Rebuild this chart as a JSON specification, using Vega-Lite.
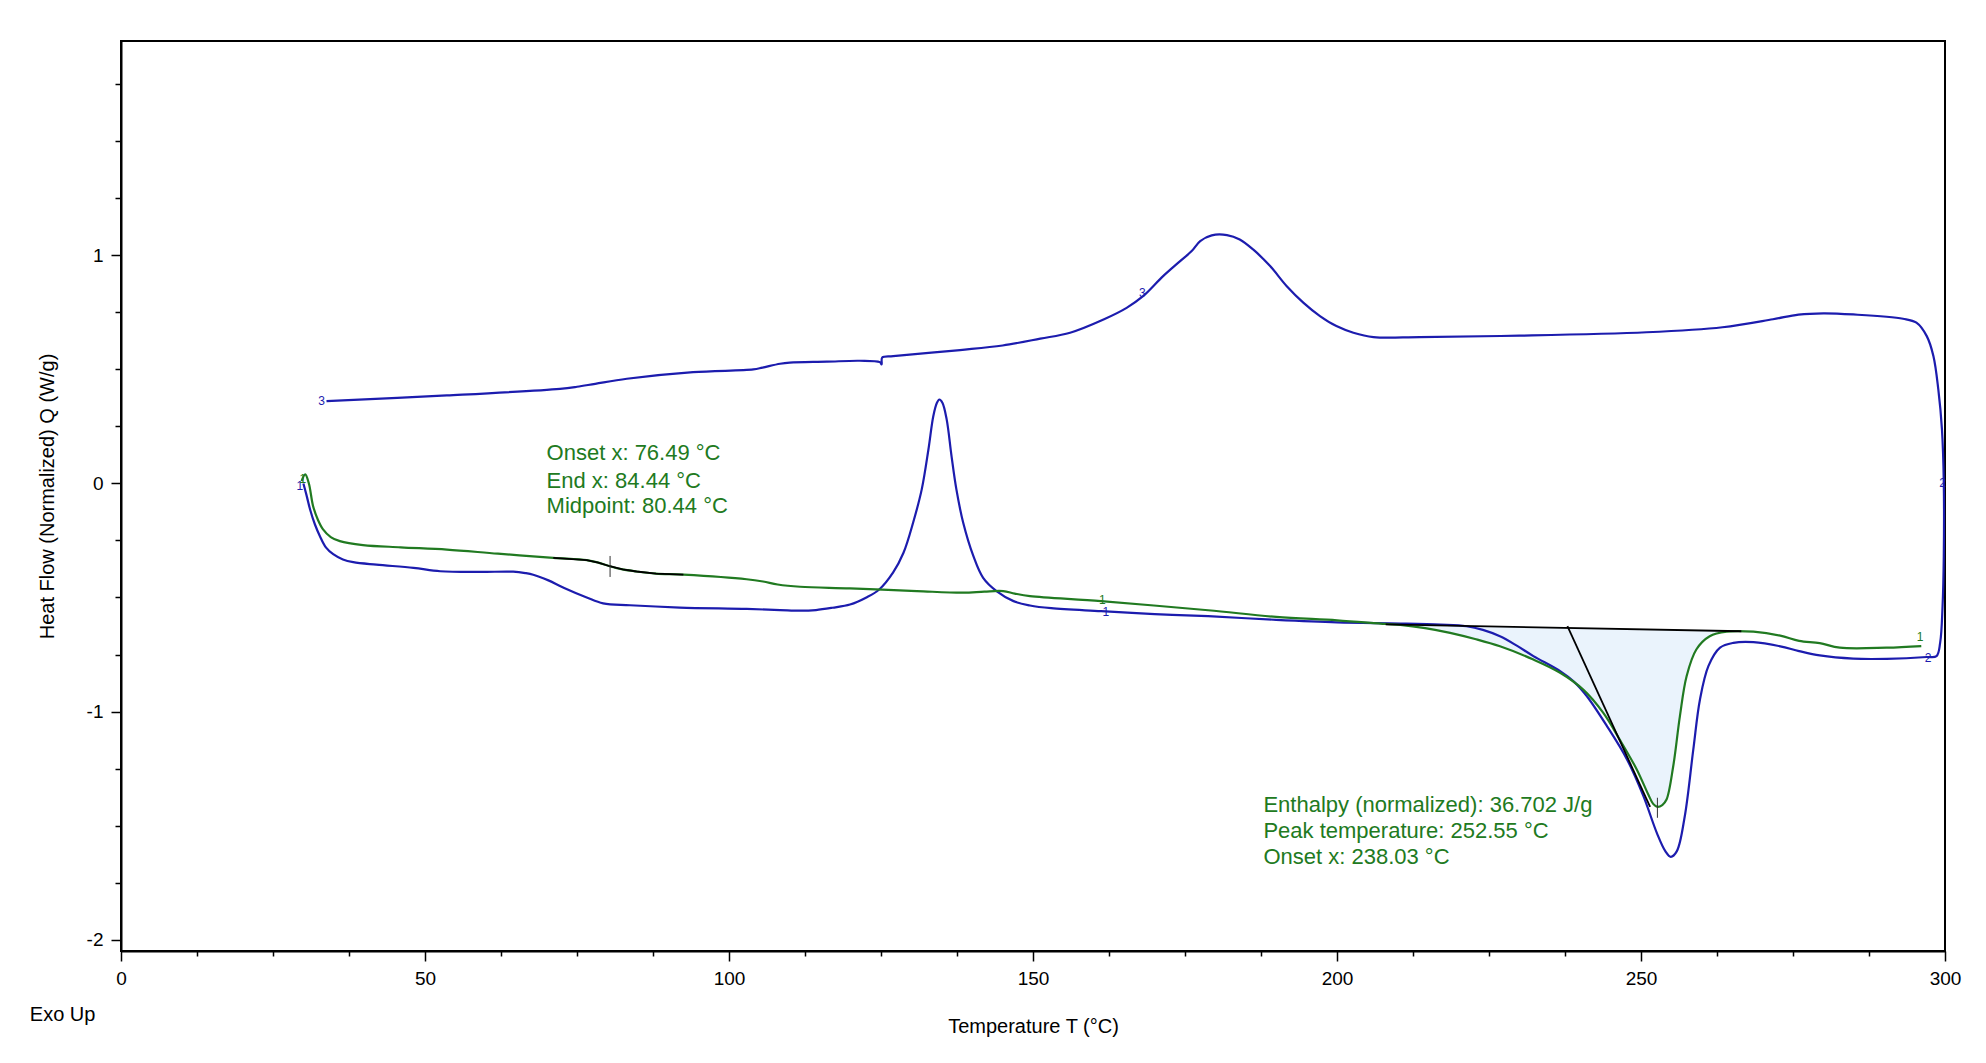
{
  "$schema": "https://vega.github.io/schema/vega-lite/v6.json",
  "description": "DSC heat flow vs temperature",
  "width": 1824,
  "height": 910,
  "autosize": {"type": "none"},
  "padding": {"left": 121, "top": 41, "right": 41, "bottom": 112},
  "background": "white",
  "config": {
    "view": {"stroke": "#000000", "strokeWidth": 2},
    "axis": {
      "grid": false,
      "domainColor": "#000000",
      "domainWidth": 2,
      "tickColor": "#000000",
      "tickWidth": 1.5,
      "labelColor": "#000000",
      "titleColor": "#000000",
      "labelFont": "Liberation Sans",
      "titleFont": "Liberation Sans",
      "labelFontSize": 19,
      "titleFontSize": 20,
      "titleFontWeight": "normal",
      "labelFlush": false
    }
  },
  "datasets": {
    "curves": [
      {"s": "blue", "i": 1, "t": 30.0, "q": 0.0},
      {"s": "blue", "i": 2, "t": 30.5, "q": -0.05},
      {"s": "blue", "i": 3, "t": 31.1, "q": -0.114},
      {"s": "blue", "i": 4, "t": 31.9, "q": -0.18},
      {"s": "blue", "i": 5, "t": 32.7, "q": -0.23},
      {"s": "blue", "i": 6, "t": 33.7, "q": -0.28},
      {"s": "blue", "i": 7, "t": 34.9, "q": -0.31},
      {"s": "blue", "i": 8, "t": 36.5, "q": -0.333},
      {"s": "blue", "i": 9, "t": 38.2, "q": -0.345},
      {"s": "blue", "i": 10, "t": 42.0, "q": -0.356},
      {"s": "blue", "i": 11, "t": 48.1, "q": -0.37},
      {"s": "blue", "i": 12, "t": 52.5, "q": -0.385},
      {"s": "blue", "i": 13, "t": 59.0, "q": -0.388},
      {"s": "blue", "i": 14, "t": 64.5, "q": -0.387},
      {"s": "blue", "i": 15, "t": 66.5, "q": -0.393},
      {"s": "blue", "i": 16, "t": 67.8, "q": -0.4},
      {"s": "blue", "i": 17, "t": 70.3, "q": -0.425},
      {"s": "blue", "i": 18, "t": 72.8, "q": -0.457},
      {"s": "blue", "i": 19, "t": 76.6, "q": -0.5},
      {"s": "blue", "i": 20, "t": 79.3, "q": -0.526},
      {"s": "blue", "i": 21, "t": 83.7, "q": -0.534},
      {"s": "blue", "i": 22, "t": 91.9, "q": -0.544},
      {"s": "blue", "i": 23, "t": 102.9, "q": -0.55},
      {"s": "blue", "i": 24, "t": 108.4, "q": -0.555},
      {"s": "blue", "i": 25, "t": 111.7, "q": -0.558},
      {"s": "blue", "i": 26, "t": 114.3, "q": -0.555},
      {"s": "blue", "i": 27, "t": 117.0, "q": -0.545},
      {"s": "blue", "i": 28, "t": 119.9, "q": -0.531},
      {"s": "blue", "i": 29, "t": 122.6, "q": -0.5},
      {"s": "blue", "i": 30, "t": 124.7, "q": -0.465},
      {"s": "blue", "i": 31, "t": 127.0, "q": -0.39},
      {"s": "blue", "i": 32, "t": 128.7, "q": -0.304},
      {"s": "blue", "i": 33, "t": 130.3, "q": -0.17},
      {"s": "blue", "i": 34, "t": 131.7, "q": -0.026},
      {"s": "blue", "i": 35, "t": 132.8, "q": 0.149},
      {"s": "blue", "i": 36, "t": 133.6, "q": 0.295},
      {"s": "blue", "i": 37, "t": 134.2, "q": 0.354},
      {"s": "blue", "i": 38, "t": 134.6, "q": 0.368},
      {"s": "blue", "i": 39, "t": 135.1, "q": 0.354},
      {"s": "blue", "i": 40, "t": 135.8, "q": 0.281},
      {"s": "blue", "i": 41, "t": 136.6, "q": 0.12},
      {"s": "blue", "i": 42, "t": 137.4, "q": -0.026},
      {"s": "blue", "i": 43, "t": 138.5, "q": -0.17},
      {"s": "blue", "i": 44, "t": 140.2, "q": -0.319},
      {"s": "blue", "i": 45, "t": 141.8, "q": -0.414},
      {"s": "blue", "i": 46, "t": 144.0, "q": -0.472},
      {"s": "blue", "i": 47, "t": 146.8, "q": -0.516},
      {"s": "blue", "i": 48, "t": 149.5, "q": -0.535},
      {"s": "blue", "i": 49, "t": 153.0, "q": -0.547},
      {"s": "blue", "i": 50, "t": 161.2, "q": -0.56},
      {"s": "blue", "i": 51, "t": 170.0, "q": -0.573},
      {"s": "blue", "i": 52, "t": 178.8, "q": -0.582},
      {"s": "blue", "i": 53, "t": 190.0, "q": -0.598},
      {"s": "blue", "i": 54, "t": 200.0, "q": -0.609},
      {"s": "blue", "i": 55, "t": 210.4, "q": -0.614},
      {"s": "blue", "i": 56, "t": 217.0, "q": -0.619},
      {"s": "blue", "i": 57, "t": 221.3, "q": -0.626},
      {"s": "blue", "i": 58, "t": 224.0, "q": -0.642},
      {"s": "blue", "i": 59, "t": 226.8, "q": -0.67},
      {"s": "blue", "i": 60, "t": 229.5, "q": -0.71},
      {"s": "blue", "i": 61, "t": 232.3, "q": -0.757},
      {"s": "blue", "i": 62, "t": 236.7, "q": -0.823},
      {"s": "blue", "i": 63, "t": 239.0, "q": -0.87},
      {"s": "blue", "i": 64, "t": 241.1, "q": -0.933},
      {"s": "blue", "i": 65, "t": 244.4, "q": -1.064},
      {"s": "blue", "i": 66, "t": 247.7, "q": -1.21},
      {"s": "blue", "i": 67, "t": 250.4, "q": -1.371},
      {"s": "blue", "i": 68, "t": 252.6, "q": -1.532},
      {"s": "blue", "i": 69, "t": 254.0, "q": -1.612},
      {"s": "blue", "i": 70, "t": 254.9, "q": -1.637},
      {"s": "blue", "i": 71, "t": 255.9, "q": -1.612},
      {"s": "blue", "i": 72, "t": 257.2, "q": -1.459},
      {"s": "blue", "i": 73, "t": 258.6, "q": -1.167},
      {"s": "blue", "i": 74, "t": 259.7, "q": -0.947},
      {"s": "blue", "i": 75, "t": 261.1, "q": -0.8},
      {"s": "blue", "i": 76, "t": 263.0, "q": -0.72},
      {"s": "blue", "i": 77, "t": 265.2, "q": -0.699},
      {"s": "blue", "i": 78, "t": 268.5, "q": -0.696},
      {"s": "blue", "i": 79, "t": 272.9, "q": -0.714},
      {"s": "blue", "i": 80, "t": 276.0, "q": -0.735},
      {"s": "blue", "i": 81, "t": 279.4, "q": -0.754},
      {"s": "blue", "i": 82, "t": 284.9, "q": -0.768},
      {"s": "blue", "i": 83, "t": 290.4, "q": -0.769},
      {"s": "blue", "i": 84, "t": 297.0, "q": -0.761},
      {"s": "blue", "i": 85, "t": 298.6, "q": -0.757},
      {"s": "blue", "i": 86, "t": 299.2, "q": -0.699},
      {"s": "blue", "i": 87, "t": 299.6, "q": -0.538},
      {"s": "blue", "i": 88, "t": 299.8, "q": -0.319},
      {"s": "blue", "i": 89, "t": 299.8, "q": 0.003},
      {"s": "blue", "i": 90, "t": 299.5, "q": 0.237},
      {"s": "blue", "i": 91, "t": 298.9, "q": 0.412},
      {"s": "blue", "i": 92, "t": 298.1, "q": 0.558},
      {"s": "blue", "i": 93, "t": 297.0, "q": 0.646},
      {"s": "blue", "i": 94, "t": 295.3, "q": 0.705},
      {"s": "blue", "i": 95, "t": 293.1, "q": 0.722},
      {"s": "blue", "i": 96, "t": 284.9, "q": 0.741},
      {"s": "blue", "i": 97, "t": 280.0, "q": 0.746},
      {"s": "blue", "i": 98, "t": 275.9, "q": 0.74},
      {"s": "blue", "i": 99, "t": 271.7, "q": 0.72},
      {"s": "blue", "i": 100, "t": 263.4, "q": 0.685},
      {"s": "blue", "i": 101, "t": 250.9, "q": 0.663},
      {"s": "blue", "i": 102, "t": 230.0, "q": 0.648},
      {"s": "blue", "i": 103, "t": 213.6, "q": 0.642},
      {"s": "blue", "i": 104, "t": 206.0, "q": 0.642},
      {"s": "blue", "i": 105, "t": 202.7, "q": 0.661},
      {"s": "blue", "i": 106, "t": 199.9, "q": 0.69},
      {"s": "blue", "i": 107, "t": 197.2, "q": 0.734},
      {"s": "blue", "i": 108, "t": 194.5, "q": 0.792},
      {"s": "blue", "i": 109, "t": 191.7, "q": 0.866},
      {"s": "blue", "i": 110, "t": 189.0, "q": 0.953},
      {"s": "blue", "i": 111, "t": 186.2, "q": 1.026},
      {"s": "blue", "i": 112, "t": 184.0, "q": 1.07},
      {"s": "blue", "i": 113, "t": 181.9, "q": 1.089},
      {"s": "blue", "i": 114, "t": 179.4, "q": 1.088},
      {"s": "blue", "i": 115, "t": 177.5, "q": 1.063},
      {"s": "blue", "i": 116, "t": 176.1, "q": 1.019},
      {"s": "blue", "i": 117, "t": 174.2, "q": 0.975},
      {"s": "blue", "i": 118, "t": 171.4, "q": 0.909},
      {"s": "blue", "i": 119, "t": 168.1, "q": 0.821},
      {"s": "blue", "i": 120, "t": 165.4, "q": 0.77},
      {"s": "blue", "i": 121, "t": 161.6, "q": 0.719},
      {"s": "blue", "i": 122, "t": 156.1, "q": 0.661},
      {"s": "blue", "i": 123, "t": 151.2, "q": 0.635},
      {"s": "blue", "i": 124, "t": 145.0, "q": 0.605},
      {"s": "blue", "i": 125, "t": 138.0, "q": 0.585},
      {"s": "blue", "i": 126, "t": 127.0, "q": 0.558},
      {"s": "blue", "i": 127, "t": 125.2, "q": 0.552},
      {"s": "blue", "i": 128, "t": 125.1, "q": 0.522},
      {"s": "blue", "i": 129, "t": 124.8, "q": 0.532},
      {"s": "blue", "i": 130, "t": 121.5, "q": 0.538},
      {"s": "blue", "i": 131, "t": 116.1, "q": 0.534},
      {"s": "blue", "i": 132, "t": 110.0, "q": 0.53},
      {"s": "blue", "i": 133, "t": 108.4, "q": 0.525},
      {"s": "blue", "i": 134, "t": 105.5, "q": 0.508},
      {"s": "blue", "i": 135, "t": 104.0, "q": 0.5},
      {"s": "blue", "i": 136, "t": 94.1, "q": 0.488},
      {"s": "blue", "i": 137, "t": 83.2, "q": 0.459},
      {"s": "blue", "i": 138, "t": 78.0, "q": 0.437},
      {"s": "blue", "i": 139, "t": 75.0, "q": 0.424},
      {"s": "blue", "i": 140, "t": 72.2, "q": 0.415},
      {"s": "blue", "i": 141, "t": 53.6, "q": 0.386},
      {"s": "blue", "i": 142, "t": 33.8, "q": 0.361},
      {"s": "green", "i": 201, "t": 29.7, "q": 0.01},
      {"s": "green", "i": 202, "t": 30.3, "q": 0.04},
      {"s": "green", "i": 203, "t": 30.9, "q": 0.0},
      {"s": "green", "i": 204, "t": 31.6, "q": -0.1},
      {"s": "green", "i": 205, "t": 32.4, "q": -0.16},
      {"s": "green", "i": 206, "t": 33.2, "q": -0.2},
      {"s": "green", "i": 207, "t": 34.5, "q": -0.235},
      {"s": "green", "i": 208, "t": 36.0, "q": -0.253},
      {"s": "green", "i": 209, "t": 39.8, "q": -0.27},
      {"s": "green", "i": 210, "t": 46.0, "q": -0.28},
      {"s": "green", "i": 211, "t": 53.6, "q": -0.29},
      {"s": "green", "i": 212, "t": 62.0, "q": -0.308},
      {"s": "green", "i": 213, "t": 71.1, "q": -0.326},
      {"s": "green", "i": 214, "t": 76.6, "q": -0.336},
      {"s": "green", "i": 215, "t": 78.5, "q": -0.347},
      {"s": "green", "i": 216, "t": 80.4, "q": -0.363},
      {"s": "green", "i": 217, "t": 82.5, "q": -0.377},
      {"s": "green", "i": 218, "t": 84.8, "q": -0.386},
      {"s": "green", "i": 219, "t": 88.0, "q": -0.395},
      {"s": "green", "i": 220, "t": 92.5, "q": -0.4},
      {"s": "green", "i": 221, "t": 102.9, "q": -0.42},
      {"s": "green", "i": 222, "t": 105.6, "q": -0.43},
      {"s": "green", "i": 223, "t": 108.0, "q": -0.443},
      {"s": "green", "i": 224, "t": 111.7, "q": -0.453},
      {"s": "green", "i": 225, "t": 119.9, "q": -0.46},
      {"s": "green", "i": 226, "t": 130.9, "q": -0.472},
      {"s": "green", "i": 227, "t": 138.5, "q": -0.479},
      {"s": "green", "i": 228, "t": 142.0, "q": -0.474},
      {"s": "green", "i": 229, "t": 145.1, "q": -0.472},
      {"s": "green", "i": 230, "t": 147.0, "q": -0.483},
      {"s": "green", "i": 231, "t": 149.5, "q": -0.494},
      {"s": "green", "i": 232, "t": 161.2, "q": -0.516},
      {"s": "green", "i": 233, "t": 178.8, "q": -0.556},
      {"s": "green", "i": 234, "t": 190.0, "q": -0.585},
      {"s": "green", "i": 235, "t": 200.0, "q": -0.6},
      {"s": "green", "i": 236, "t": 208.0, "q": -0.616},
      {"s": "green", "i": 237, "t": 210.4, "q": -0.62},
      {"s": "green", "i": 238, "t": 214.5, "q": -0.634},
      {"s": "green", "i": 239, "t": 218.6, "q": -0.655},
      {"s": "green", "i": 240, "t": 222.7, "q": -0.682},
      {"s": "green", "i": 241, "t": 226.8, "q": -0.714},
      {"s": "green", "i": 242, "t": 232.3, "q": -0.772},
      {"s": "green", "i": 243, "t": 236.7, "q": -0.83},
      {"s": "green", "i": 244, "t": 240.5, "q": -0.904},
      {"s": "green", "i": 245, "t": 243.8, "q": -1.006},
      {"s": "green", "i": 246, "t": 246.5, "q": -1.123},
      {"s": "green", "i": 247, "t": 249.3, "q": -1.254},
      {"s": "green", "i": 248, "t": 251.2, "q": -1.364},
      {"s": "green", "i": 249, "t": 252.0, "q": -1.405},
      {"s": "green", "i": 250, "t": 252.7, "q": -1.418},
      {"s": "green", "i": 251, "t": 253.5, "q": -1.41},
      {"s": "green", "i": 252, "t": 254.2, "q": -1.386},
      {"s": "green", "i": 253, "t": 255.3, "q": -1.24},
      {"s": "green", "i": 254, "t": 256.4, "q": -1.02},
      {"s": "green", "i": 255, "t": 257.5, "q": -0.845},
      {"s": "green", "i": 256, "t": 259.1, "q": -0.728},
      {"s": "green", "i": 257, "t": 261.3, "q": -0.67},
      {"s": "green", "i": 258, "t": 264.1, "q": -0.65},
      {"s": "green", "i": 259, "t": 268.5, "q": -0.65},
      {"s": "green", "i": 260, "t": 272.9, "q": -0.667},
      {"s": "green", "i": 261, "t": 276.0, "q": -0.69},
      {"s": "green", "i": 262, "t": 279.4, "q": -0.7},
      {"s": "green", "i": 263, "t": 282.7, "q": -0.72},
      {"s": "green", "i": 264, "t": 290.4, "q": -0.72},
      {"s": "green", "i": 265, "t": 296.1, "q": -0.713}
    ],
    "peakArea": [
      {"t": 208.0, "q": -0.618, "qb": -0.618},
      {"t": 210.4, "q": -0.62, "qb": -0.619},
      {"t": 214.5, "q": -0.634, "qb": -0.621},
      {"t": 218.6, "q": -0.655, "qb": -0.623},
      {"t": 222.7, "q": -0.682, "qb": -0.626},
      {"t": 226.8, "q": -0.714, "qb": -0.628},
      {"t": 232.3, "q": -0.772, "qb": -0.63},
      {"t": 236.7, "q": -0.83, "qb": -0.633},
      {"t": 240.5, "q": -0.904, "qb": -0.635},
      {"t": 243.8, "q": -1.006, "qb": -0.636},
      {"t": 246.5, "q": -1.123, "qb": -0.638},
      {"t": 249.3, "q": -1.254, "qb": -0.639},
      {"t": 251.2, "q": -1.364, "qb": -0.64},
      {"t": 252.0, "q": -1.405, "qb": -0.641},
      {"t": 252.7, "q": -1.418, "qb": -0.641},
      {"t": 253.5, "q": -1.41, "qb": -0.641},
      {"t": 254.2, "q": -1.386, "qb": -0.642},
      {"t": 255.3, "q": -1.24, "qb": -0.642},
      {"t": 256.4, "q": -1.02, "qb": -0.643},
      {"t": 257.5, "q": -0.845, "qb": -0.643},
      {"t": 259.1, "q": -0.728, "qb": -0.644},
      {"t": 261.3, "q": -0.67, "qb": -0.645},
      {"t": 264.1, "q": -0.65, "qb": -0.647},
      {"t": 266.5, "q": -0.648, "qb": -0.648}
    ],
    "construction": [
      {"seg": "glass", "t": 71.1, "q": -0.326},
      {"seg": "glass", "t": 76.6, "q": -0.336},
      {"seg": "glass", "t": 78.5, "q": -0.347},
      {"seg": "glass", "t": 80.4, "q": -0.363},
      {"seg": "glass", "t": 82.5, "q": -0.377},
      {"seg": "glass", "t": 84.8, "q": -0.386},
      {"seg": "glass", "t": 88.0, "q": -0.395},
      {"seg": "glass", "t": 92.5, "q": -0.4},
      {"seg": "baseline", "t": 208.0, "q": -0.618},
      {"seg": "baseline", "t": 266.5, "q": -0.648},
      {"seg": "tangent", "t": 237.9, "q": -0.626},
      {"seg": "tangent", "t": 251.5, "q": -1.418}
    ],
    "markers": [
      {"t": 80.44, "q": -0.318, "q2": -0.41},
      {"t": 252.7, "q": -1.378, "q2": -1.466}
    ],
    "notes": [
      {"t": 70.0, "q": 0.134, "txt": "Onset x: 76.49 °C"},
      {"t": 70.0, "q": 0.012, "txt": "End x: 84.44 °C"},
      {"t": 70.0, "q": -0.1, "txt": "Midpoint: 80.44 °C"},
      {"t": 187.9, "q": -1.41, "txt": "Enthalpy (normalized): 36.702 J/g"},
      {"t": 187.9, "q": -1.522, "txt": "Peak temperature: 252.55 °C"},
      {"t": 187.9, "q": -1.636, "txt": "Onset x: 238.03 °C"}
    ],
    "cycleLabels": [
      {"s": "blue", "t": 29.4, "q": -0.01, "txt": "1"},
      {"s": "blue", "t": 33.0, "q": 0.362, "txt": "3"},
      {"s": "blue", "t": 168.0, "q": 0.835, "txt": "3"},
      {"s": "blue", "t": 162.0, "q": -0.565, "txt": "1"},
      {"s": "blue", "t": 299.6, "q": 0.0, "txt": "2"},
      {"s": "blue", "t": 297.2, "q": -0.765, "txt": "2"},
      {"s": "green", "t": 29.9, "q": 0.02, "txt": "1"},
      {"s": "green", "t": 161.4, "q": -0.51, "txt": "1"},
      {"s": "green", "t": 295.9, "q": -0.675, "txt": "1"}
    ],
    "corner": [
      {"t": -15, "q": -2.33, "txt": "Exo Up"}
    ]
  },
  "resolve": {"axis": {"x": "independent", "y": "independent"}},
  "layer": [
    {
      "data": {"name": "peakArea"},
      "mark": {"type": "area", "color": "#eaf3fc", "opacity": 1, "interpolate": "monotone"},
      "encoding": {
        "x": {
          "field": "t",
          "type": "quantitative",
          "scale": {"domain": [0, 300], "nice": false, "zero": false},
          "axis": {
            "orient": "bottom",
            "values": [0, 50, 100, 150, 200, 250, 300],
            "tickSize": 10,
            "labelPadding": 8,
            "title": "Temperature  T  (°C)",
            "titlePadding": 28
          }
        },
        "y": {
          "field": "q",
          "type": "quantitative",
          "scale": {"domain": [-2.05, 1.94], "nice": false, "zero": false},
          "axis": {
            "orient": "left",
            "values": [-2, -1, 0, 1],
            "labelExpr": "datum.value < 0 ? '-' + abs(datum.value) : datum.label",
            "tickSize": 10,
            "labelPadding": 8,
            "title": "Heat Flow (Normalized) Q  (W/g)",
            "titlePadding": 29
          }
        },
        "y2": {"field": "qb"}
      }
    },
    {
      "data": {"name": "curves"},
      "transform": [{"filter": "datum.s === 'blue'"}],
      "mark": {"type": "line", "color": "#1c1cae", "strokeWidth": 2.2, "interpolate": "catmull-rom"},
      "encoding": {
        "x": {
          "field": "t",
          "type": "quantitative",
          "axis": {
            "orient": "bottom",
            "values": [12.5, 25, 37.5, 62.5, 75, 87.5, 112.5, 125, 137.5, 162.5, 175, 187.5, 212.5, 225, 237.5, 262.5, 275, 287.5],
            "tickSize": 5,
            "labels": false,
            "domain": false,
            "title": null
          }
        },
        "y": {
          "field": "q",
          "type": "quantitative",
          "axis": {
            "orient": "left",
            "values": [-1.75, -1.5, -1.25, -0.75, -0.5, -0.25, 0.25, 0.5, 0.75, 1.25, 1.5, 1.75],
            "tickSize": 6,
            "labels": false,
            "domain": false,
            "title": null
          }
        },
        "order": {"field": "i", "type": "quantitative"}
      }
    },
    {
      "data": {"name": "curves"},
      "transform": [{"filter": "datum.s === 'green'"}],
      "mark": {"type": "line", "color": "#217a21", "strokeWidth": 2.2, "interpolate": "catmull-rom"},
      "encoding": {
        "x": {"field": "t", "type": "quantitative", "axis": null},
        "y": {"field": "q", "type": "quantitative", "axis": null},
        "order": {"field": "i", "type": "quantitative"}
      }
    },
    {
      "data": {"name": "construction"},
      "mark": {"type": "line", "color": "#000000", "strokeWidth": 1.8},
      "encoding": {
        "x": {"field": "t", "type": "quantitative", "axis": null},
        "y": {"field": "q", "type": "quantitative", "axis": null},
        "detail": {"field": "seg"}
      }
    },
    {
      "data": {"name": "markers"},
      "mark": {"type": "rule", "color": "#333333", "strokeWidth": 1},
      "encoding": {
        "x": {"field": "t", "type": "quantitative", "axis": null},
        "y": {"field": "q", "type": "quantitative", "axis": null},
        "y2": {"field": "q2"}
      }
    },
    {
      "data": {"name": "cycleLabels"},
      "mark": {"type": "text", "fontSize": 12, "font": "Liberation Sans", "align": "center", "baseline": "middle"},
      "encoding": {
        "x": {"field": "t", "type": "quantitative", "axis": null},
        "y": {"field": "q", "type": "quantitative", "axis": null},
        "text": {"field": "txt"},
        "color": {
          "field": "s",
          "type": "nominal",
          "scale": {"domain": ["blue", "green"], "range": ["#1c1cae", "#217a21"]},
          "legend": null
        }
      }
    },
    {
      "data": {"name": "notes"},
      "mark": {"type": "text", "fontSize": 22, "font": "Liberation Sans", "align": "left", "baseline": "middle", "color": "#217a21"},
      "encoding": {
        "x": {"field": "t", "type": "quantitative", "axis": null},
        "y": {"field": "q", "type": "quantitative", "axis": null},
        "text": {"field": "txt"}
      }
    },
    {
      "data": {"name": "corner"},
      "mark": {"type": "text", "fontSize": 20, "font": "Liberation Sans", "align": "left", "baseline": "middle", "color": "#000000"},
      "encoding": {
        "x": {"field": "t", "type": "quantitative", "axis": null},
        "y": {"field": "q", "type": "quantitative", "axis": null},
        "text": {"field": "txt"}
      }
    }
  ]
}
